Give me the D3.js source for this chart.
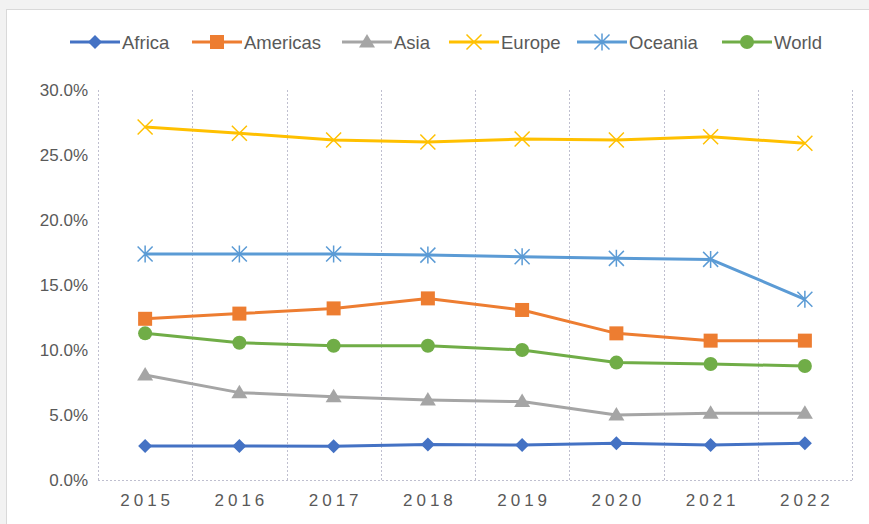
<!DOCTYPE html>
<html>
<head>
<meta charset="utf-8">
<script src="https://cdn.jsdelivr.net/npm/d3@7"></script>
<style>
  body { margin: 0; background: #f2f2f2; }
  svg { display: block; }
  text { font-family: "Liberation Sans", Arial, sans-serif; fill: #595959; }
</style>
</head>
<body>
<div id="chart"></div>
<script>
const years = ["2015", "2016", "2017", "2018", "2019", "2020", "2021", "2022"];
const yTicks = [0, 0.05, 0.10, 0.15, 0.20, 0.25, 0.30];

const africa   = [0.0262, 0.0262, 0.0260, 0.0274, 0.0269, 0.0282, 0.0269, 0.0282];
const americas = [0.1240, 0.1280, 0.1320, 0.1397, 0.1308, 0.1128, 0.1072, 0.1072];
const asia     = [0.0808, 0.0672, 0.0641, 0.0615, 0.0603, 0.0500, 0.0513, 0.0513];
const europe   = [0.2715, 0.2667, 0.2615, 0.2600, 0.2623, 0.2615, 0.2640, 0.2590];
const oceania  = [0.1738, 0.1738, 0.1738, 0.1730, 0.1718, 0.1705, 0.1697, 0.1390];
const world    = [0.1128, 0.1056, 0.1033, 0.1033, 0.1000, 0.0903, 0.0892, 0.0877];

const seriesNames  = ["Africa", "Americas", "Asia", "Europe", "Oceania", "World"];
const seriesValues = [africa, americas, asia, europe, oceania, world];
const seriesColors = ["#4472c4", "#ed7d31", "#a5a5a5", "#ffc000", "#5b9bd5", "#70ad47"];
const seriesMarks  = ["diamond", "square", "triangle", "cross", "asterisk", "circle"];

const width = 869, height = 524;
const margin = {left: 98, right: 17, top: 90, bottom: 44};

const svg = d3.select("#chart").append("svg")
    .attr("width", width)
    .attr("height", height);

// chart frame
svg.append("rect")
    .attr("x", 6.5).attr("y", 9.5)
    .attr("width", width).attr("height", height)
    .attr("fill", "#fff")
    .attr("stroke", "#d9d9d9");

const x = d3.scaleBand()
    .domain(years)
    .range([margin.left, width - margin.right]);

const y = d3.scaleLinear()
    .domain([0, 0.30])
    .range([height - margin.bottom, margin.top]);

// vertical dashed gridlines at band edges
const edges = years.map(d => x(d)).concat([x.range()[1]]);
svg.append("g").selectAll("line")
    .data(edges)
    .join("line")
    .attr("x1", d => Math.round(d) + 0.5)
    .attr("x2", d => Math.round(d) + 0.5)
    .attr("y1", y(0.30))
    .attr("y2", y(0))
    .attr("stroke", "#bfbfcf")
    .attr("stroke-dasharray", "2,2");

// bottom axis line
svg.append("line")
    .attr("x1", margin.left)
    .attr("x2", width - margin.right)
    .attr("y1", Math.round(y(0)) + 0.5)
    .attr("y2", Math.round(y(0)) + 0.5)
    .attr("stroke", "#bfbfcf")
    .attr("stroke-dasharray", "2,2");

// y tick labels
const yAxis = svg.append("g")
    .attr("transform", `translate(${margin.left - 10},0)`)
    .call(d3.axisLeft(y).tickValues(yTicks).tickFormat(d3.format(".1%")).tickSize(0).tickPadding(0));
yAxis.select(".domain").remove();
yAxis.selectAll("text")
    .style("font-family", "'Liberation Sans', Arial, sans-serif")
    .style("font-size", "17px")
    .attr("fill", "#595959");

// x tick labels
const xAxis = svg.append("g")
    .attr("transform", `translate(0,${y(0)})`)
    .call(d3.axisBottom(x).tickSize(0).tickPadding(14));
xAxis.select(".domain").remove();
xAxis.selectAll("text")
    .style("font-family", "'Liberation Sans', Arial, sans-serif")
    .style("font-size", "17px")
    .style("letter-spacing", "4px")
    .attr("dx", "2px")
    .attr("fill", "#505050");

function drawMark(g, type, color) {
  if (type === "diamond") {
    g.append("path").attr("d", "M0,-7L7,0L0,7L-7,0Z").attr("fill", color);
  } else if (type === "square") {
    g.append("rect").attr("x", -7).attr("y", -7).attr("width", 14).attr("height", 14).attr("fill", color);
  } else if (type === "triangle") {
    g.append("path").attr("d", "M0,-8L8,5.5L-8,5.5Z").attr("fill", color);
  } else if (type === "circle") {
    g.append("circle").attr("r", 7).attr("fill", color);
  } else if (type === "cross") {
    g.append("path").attr("d", "M-7.5,-7.5L7.5,7.5M-7.5,7.5L7.5,-7.5").attr("stroke", color).attr("stroke-width", 1.5).attr("fill", "none");
  } else if (type === "asterisk") {
    g.append("path").attr("d", "M-7.5,-7.5L7.5,7.5M-7.5,7.5L7.5,-7.5M0,-8.5L0,8.5").attr("stroke", color).attr("stroke-width", 1.5).attr("fill", "none");
  }
}

const line = d3.line()
    .x((d, i) => x(years[i]) + x.bandwidth() / 2)
    .y(d => y(d));

seriesValues.forEach((vals, s) => {
  svg.append("path")
      .datum(vals)
      .attr("d", line)
      .attr("fill", "none")
      .attr("stroke", seriesColors[s])
      .attr("stroke-width", 3)
      .attr("stroke-linejoin", "round");
  vals.forEach((v, i) => {
    const g = svg.append("g")
        .attr("transform", `translate(${x(years[i]) + x.bandwidth() / 2},${y(v)})`);
    drawMark(g, seriesMarks[s], seriesColors[s]);
  });
});

// legend
const legendX = [70, 192, 342, 449, 577, 722];
const legend = svg.append("g").attr("transform", "translate(0,42)");
seriesNames.forEach((name, s) => {
  const g = legend.append("g").attr("transform", `translate(${legendX[s]},0)`);
  g.append("line")
      .attr("x1", 0).attr("x2", 50)
      .attr("stroke", seriesColors[s])
      .attr("stroke-width", 3);
  const m = g.append("g").attr("transform", "translate(25,0)");
  drawMark(m, seriesMarks[s], seriesColors[s]);
  g.append("text")
      .attr("x", 52)
      .attr("dy", "0.36em")
      .style("font-size", "18.5px")
      .text(name);
});
</script>
</body>
</html>
